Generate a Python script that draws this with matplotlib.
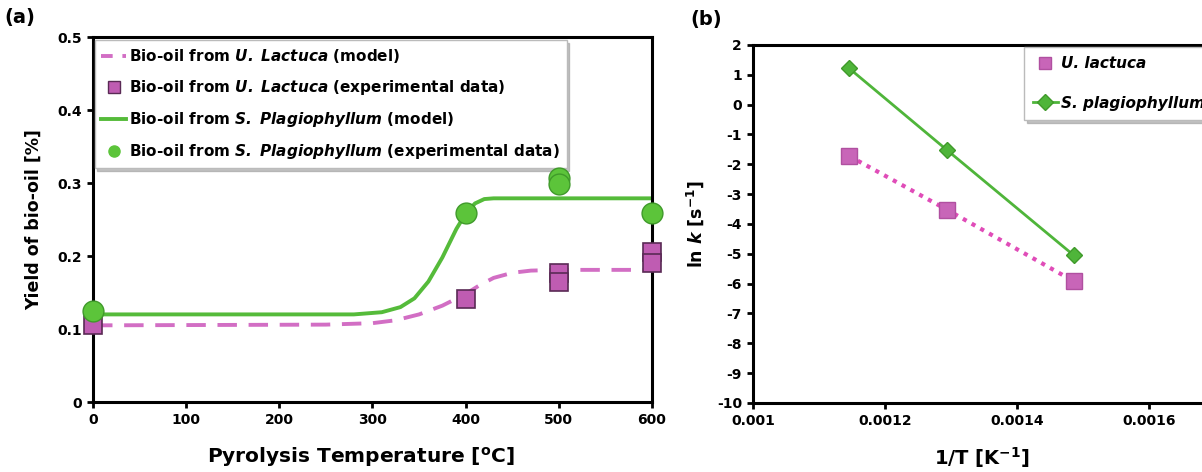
import numpy as np
import matplotlib.pyplot as plt
from matplotlib.lines import Line2D

plt.rcParams['font.family'] = ['DejaVu Sans']
plt.rcParams['axes.unicode_minus'] = False
plt.rcParams['mathtext.fontset'] = 'custom'
plt.rcParams['mathtext.rm'] = 'DejaVu Sans'
plt.rcParams['mathtext.it'] = 'DejaVu Sans:italic'
plt.rcParams['mathtext.bf'] = 'DejaVu Sans:bold'
plt.rcParams['mathtext.bfit'] = 'DejaVu Sans:bold:italic'

# (a) bio-oil yield vs temperature
temp_ul_exp = [0, 400, 500, 500, 600, 600]
yield_ul_exp = [0.105, 0.141, 0.177, 0.164, 0.205, 0.19]
temp_sp_exp = [0, 400, 500, 500, 600]
yield_sp_exp = [0.124, 0.259, 0.307, 0.299, 0.259]

# model curves
temp_ul_model = [0, 250, 300, 325, 350, 375, 400, 415, 430, 450, 470, 500, 600]
yield_ul_model = [0.105, 0.106, 0.108, 0.112, 0.12, 0.132, 0.148, 0.16, 0.17, 0.177, 0.18, 0.181, 0.181]
temp_sp_model = [0, 280, 310, 330, 345, 360, 375, 390, 400, 410, 420, 430, 600]
yield_sp_model = [0.12, 0.12, 0.123, 0.13, 0.142, 0.165, 0.198, 0.237, 0.258, 0.272, 0.278, 0.279, 0.279]

# (b) Arrhenius plot
inv_T = [1 / 873, 1 / 773, 1 / 673]
lnk_ul = [-1.72, -3.52, -5.92]
lnk_sp = [1.22, -1.52, -5.05]

pink_line = '#d26ec4'
green = '#55bb3a'
shadow_style = {'color': '#9a9a9a', 'alpha': 0.6}

fig = plt.figure(figsize=(12.02, 4.72), dpi=100)

# ---- panel (a)
ax1 = fig.add_axes([0.0774, 0.1483, 0.465, 0.7733])
ax1.plot(temp_ul_model, yield_ul_model, ls=(0, (5, 3)), color=pink_line, lw=2.8)
ax1.plot(temp_sp_model, yield_sp_model, '-', color=green, lw=2.8)
ax1.plot(temp_ul_exp, yield_ul_exp, 's', ms=13, color='#bf5cb2', mec='#5a2a55', mew=1.2,
         ls='none', clip_on=False, zorder=6)
ax1.plot(temp_sp_exp, yield_sp_exp, 'o', ms=15, color='#5cc43a', mec='#3f9a2a', mew=1,
         ls='none', clip_on=False, zorder=7)

ax1.set_xlim(0, 600)
ax1.set_ylim(0, 0.5)
ax1.set_xticks([0, 100, 200, 300, 400, 500, 600])
ax1.set_yticks([0, 0.1, 0.2, 0.3, 0.4, 0.5])
ax1.set_yticklabels(['0', '0.1', '0.2', '0.3', '0.4', '0.5'])
ax1.set_xlabel('Pyrolysis Temperature [$\\mathregular{^o}$C]', fontsize=14.5, fontweight='bold')
ax1.xaxis.set_label_coords(0.479, -0.118)
ax1.set_ylabel('Yield of bio-oil [%]', fontsize=12.5, fontweight='bold', labelpad=10)

handles_a = [
    Line2D([], [], ls=(0, (3, 2.5)), color=pink_line, lw=2.8),
    Line2D([], [], marker='s', ms=8, color='#bf5cb2', mec='#5a2a55', ls='none'),
    Line2D([], [], ls='-', color=green, lw=2.8),
    Line2D([], [], marker='o', ms=8, color='#5cc43a', ls='none'),
]
labels_a = [
    'Bio-oil from $\\mathbfit{U.\\ Lactuca}$ (model)',
    'Bio-oil from $\\mathbfit{U.\\ Lactuca}$ (experimental data)',
    'Bio-oil from $\\mathbfit{S.\\ Plagiophyllum}$ (model)',
    'Bio-oil from $\\mathbfit{S.\\ Plagiophyllum}$ (experimental data)',
]
leg_a = ax1.legend(handles_a, labels_a, loc='upper left', bbox_to_anchor=(0.0, 0.995),
                   prop={'size': 11, 'weight': 'bold'}, frameon=True, shadow=shadow_style,
                   fancybox=False, handlelength=1.6, handletextpad=0.2, labelspacing=0.85,
                   borderaxespad=0.1, borderpad=0.45)
leg_a.get_frame().set_edgecolor('#bbbbbb')

# ---- panel (b)
ax2 = fig.add_axes([0.6265, 0.1462, 0.4393, 0.7585])
ax2.plot(inv_T, lnk_ul, ls=(0, (1, 1.4)), color='#e04cb8', lw=3, marker='s', ms=11,
         mfc='#c865b8', mec='#b050a0', label='U. lactuca')
ax2.plot(inv_T, lnk_sp, '-', color='#4fb53a', lw=2, marker='D', ms=8.5,
         mfc='#4fb53a', mec='#3f9a2a', label='S. plagiophyllum')
ax2.set_xlim(0.001, 0.0018)
ax2.set_ylim(-10, 2)
ax2.set_xticks([0.001, 0.0012, 0.0014, 0.0016])
ax2.set_xticklabels(['0.001', '0.0012', '0.0014', '0.0016'])
ax2.set_yticks(np.arange(-10, 3, 1))
ax2.set_xlabel('1/T [K$\\mathregular{^{-1}}$]', fontsize=14, fontweight='bold')
ax2.xaxis.set_label_coords(0.434, -0.118)
ax2.set_ylabel('ln $\\mathbfit{k}$ [s$\\mathregular{^{-1}}$]', fontsize=12.5, fontweight='bold', labelpad=8)

hs, ls = ax2.get_legend_handles_labels()
hs[0] = Line2D([], [], marker='s', ms=8, mfc='#c865b8', mec='#b050a0', ls='none')
leg_b = fig.legend(hs, ls, loc='upper left', bbox_to_anchor=(1024 / 1202, 1 - 47 / 472),
                   prop={'size': 11, 'weight': 'bold', 'style': 'italic'}, frameon=True,
                   shadow=shadow_style, fancybox=False, handlelength=1.6, handletextpad=0.2,
                   labelspacing=1.6, borderpad=0.6, borderaxespad=0)
leg_b.get_frame().set_edgecolor('#bbbbbb')

for ax in (ax1, ax2):
    for sp in ax.spines.values():
        sp.set_linewidth(2.2)
    ax.tick_params(direction='out', length=4, width=2, labelsize=10, pad=4)
    for t in ax.get_xticklabels() + ax.get_yticklabels():
        t.set_fontweight('bold')

fig.text(4 / 1202, 1 - 17 / 472, '(a)', fontsize=14, fontweight='bold', va='center')
fig.text(690 / 1202, 1 - 20 / 472, '(b)', fontsize=14, fontweight='bold', va='center')

fig.savefig('out.png', dpi=100)
